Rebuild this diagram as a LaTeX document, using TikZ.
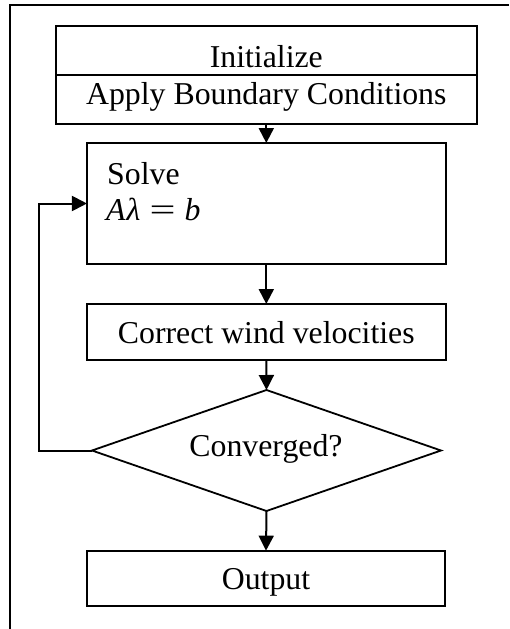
\documentclass[tikz,border=0pt]{standalone}
\usepackage{fontspec}
\usepackage{graphicx}
\setmainfont{Liberation Serif}
\usetikzlibrary{shapes.geometric,arrows.meta}
\begin{document}
\begin{tikzpicture}[x=1pt,y=-1pt,
  box/.style={draw,line width=1.8pt,inner sep=0pt,outer sep=0pt},
  lbl/.style={anchor=base,inner sep=0pt,font=\fontsize{31.8}{36}\selectfont},
  arr/.style={line width=2pt,-{Triangle[length=15pt,width=15pt]}},
  frame/.style={line width=2pt}]
\useasboundingbox (0,0) rectangle (509,629);
% outer frame (right and bottom edges lie outside the picture)
\draw[frame] (509,5) -- (10,5) -- (10,629);
% boxes
\node[box,minimum width=420.7pt,minimum height=49pt] (init) at (266.3,50.5) {};
\node[box,minimum width=420.7pt,minimum height=49pt] (apply) at (266.3,99.5) {};
\node[box,minimum width=358.7pt,minimum height=121pt] (solve) at (266.3,203.5) {};
\node[box,minimum width=358.7pt,minimum height=56pt] (correct) at (266.3,332) {};
\node[box,diamond,minimum width=349pt,minimum height=121pt] (conv) at (266.5,450.5) {};
\node[box,minimum width=358.3pt,minimum height=55.3pt] (out) at (266,578.3) {};
% texts
\node[lbl] (tinit) at (266.3,67) {Initialize};
\node[lbl] (tapply) at (266.3,104) {Apply Boundary Conditions};
\node[lbl,anchor=base west] (tsolve) at (107,184) {Solve};
\node[lbl,anchor=base west] (teq) at (106,220) {\textit{A}\kern1pt\textit{λ}\hspace{9pt}\scalebox{1.45}[1]{=}\hspace{9pt}\textit{b}};
\node[lbl] (tcorrect) at (266.3,343) {Correct wind velocities};
\node[lbl] (tconv) at (266,456) {Converged?};
\node[lbl] (tout) at (266,589) {Output};
% connectors
\draw[arr] (apply.south) -- (solve.north);
\draw[arr] (solve.south) -- (correct.north);
\draw[arr] (correct.south) -- (conv.north);
\draw[arr] (conv.south) -- (out.north);
\coordinate (loopc) at (39,203.5);
\draw[arr] (conv.west) -- (conv.west -| loopc) -- (loopc) -- (solve.west);
\end{tikzpicture}
\end{document}
